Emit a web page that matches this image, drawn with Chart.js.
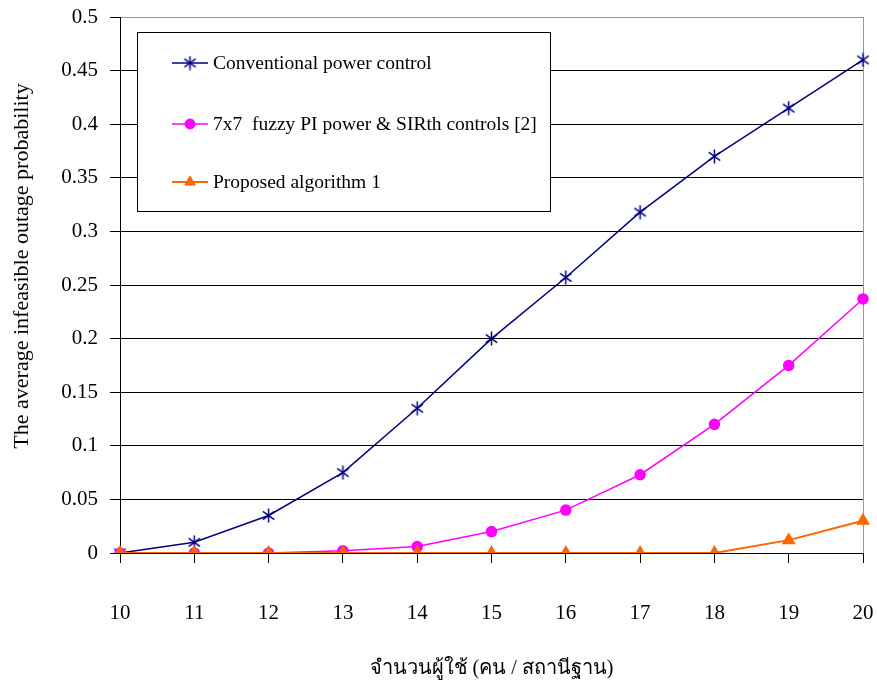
<!DOCTYPE html>
<html><head><meta charset="utf-8">
<script src="https://cdn.jsdelivr.net/npm/chart.js@4"></script>
<style>html,body{margin:0;padding:0;background:#fff}#wrap{width:877px;height:684px;position:relative}</style>
</head><body><div id="wrap"><canvas id="c"></canvas></div>
<script>
const users = ['10','11','12','13','14','15','16','17','18','19','20'];
const conventional = [0, 0.01, 0.035, 0.075, 0.135, 0.2, 0.257, 0.318, 0.37, 0.415, 0.46];
const fuzzy = [0, 0, 0, 0.002, 0.006, 0.02, 0.04, 0.073, 0.12, 0.175, 0.237];
const proposed = [0, 0, 0, 0, 0, 0, 0, 0, 0, 0.012, 0.03];
const seriesNames = ['Conventional power control', '7x7  fuzzy PI power & SIRth controls [2]', 'Proposed algorithm 1'];
const yTitle = 'The average infeasible outage probability';
const xTitle = 'จำนวนผู้ใช้ (คน / สถานีฐาน)';

const SERIF = "'Liberation Serif', 'Times New Roman', serif";

function makeStar(size, color, lw) {
  const c = document.createElement('canvas');
  c.width = size; c.height = size;
  const x = c.getContext('2d');
  x.strokeStyle = color; x.lineWidth = lw;
  const h = size / 2, r = size / 2 - 0.5;
  x.beginPath();
  x.moveTo(h, h - r); x.lineTo(h, h + r);
  [35, 145].forEach(a => {
    const t = a * Math.PI / 180;
    x.moveTo(h - r * Math.cos(t), h - r * Math.sin(t));
    x.lineTo(h + r * Math.cos(t), h + r * Math.sin(t));
  });
  x.stroke();
  return c;
}
const star = makeStar(15, '#000080', 1.5);

const boxLegend = {
  id: 'boxLegend',
  afterDraw(chart) {
    const ctx = chart.ctx;
    ctx.save();
    // y-axis title
    ctx.fillStyle = '#000';
    ctx.font = "22px " + SERIF;
    ctx.textAlign = 'center'; ctx.textBaseline = 'middle';
    ctx.translate(22, 266);
    ctx.rotate(-Math.PI / 2);
    ctx.fillText(yTitle, 0, 0);
    ctx.setTransform(1, 0, 0, 1, 0, 0);
    // legend box
    const bx = 137.5, by = 32.5, bw = 413, bh = 179;
    ctx.fillStyle = '#fff';
    ctx.fillRect(bx, by, bw, bh);
    ctx.strokeStyle = '#000'; ctx.lineWidth = 1;
    ctx.strokeRect(bx, by, bw, bh);
    const ys = [63, 124, 182];
    chart.data.datasets.forEach((ds, i) => {
      const y = ys[i];
      ctx.strokeStyle = ds.borderColor; ctx.lineWidth = ds.borderWidth;
      ctx.beginPath(); ctx.moveTo(172, y); ctx.lineTo(208, y); ctx.stroke();
      ctx.fillStyle = ds.pointBackgroundColor; ctx.strokeStyle = ds.pointBorderColor;
      ctx.lineWidth = 1;
      Chart.helpers.drawPoint(ctx, {pointStyle: ds.pointStyle, radius: ds.pointRadius, rotation: 0, borderWidth: 1}, 190, y);
      ctx.fillStyle = '#000';
      ctx.font = "19.5px " + SERIF;
      ctx.textBaseline = 'middle'; ctx.textAlign = 'left';
      ctx.fillText(ds.label, 213, y + 1);
    });
    ctx.restore();
  }
};

new Chart(document.getElementById('c'), {
  type: 'line',
  data: {
    labels: users,
    datasets: [
      {label: seriesNames[0], data: conventional, borderColor: '#000080', borderWidth: 1.5,
       pointStyle: star, pointRadius: 7, pointBackgroundColor: '#000080', pointBorderColor: '#000080', order: 2},
      {label: seriesNames[1], data: fuzzy, borderColor: '#FF00FF', borderWidth: 1.5,
       pointStyle: 'circle', pointRadius: 5, pointBackgroundColor: '#FF00FF', pointBorderColor: '#FF00FF', order: 1},
      {label: seriesNames[2], data: proposed, borderColor: '#FF6600', borderWidth: 2,
       pointStyle: 'triangle', pointRadius: 6, pointBackgroundColor: '#FF6600', pointBorderColor: '#FF6600', order: 0}
    ]
  },
  options: {
    responsive: true, maintainAspectRatio: false, animation: false,
    devicePixelRatio: 1,
    layout: {padding: {top: 17, right: 14, left: 0, bottom: 0}},
    plugins: {legend: {display: false}, tooltip: {enabled: false}},
    elements: {line: {tension: 0}},
    scales: {
      x: {
        offset: false,
        afterFit(s) { s.height = 131; s.paddingLeft = 0; s.paddingRight = 0; },
        border: {color: '#000', width: 1},
        grid: {drawOnChartArea: true, drawTicks: true, tickLength: 10, tickColor: '#000',
               color: c => c.index === users.length - 1 ? '#999' : 'rgba(0,0,0,0)'},
        ticks: {color: '#000', padding: 38, font: {family: SERIF, size: 21}, maxRotation: 0},
        title: {display: true, text: xTitle, color: '#000', font: {family: SERIF, size: 20}, padding: {top: 0, bottom: 3}}
      },
      y: {
        min: 0, max: 0.5,
        afterFit(s) { s.width = 120; s.paddingTop = 0; s.paddingBottom = 0; },
        border: {color: '#000', width: 1},
        grid: {drawTicks: true, tickLength: 10, tickColor: '#000',
               color: c => (c.tick && c.tick.value > 0.499) ? '#999' : '#000'},
        ticks: {stepSize: 0.05, color: '#000', padding: 12, font: {family: SERIF, size: 21},
                callback: v => String(+v.toFixed(2))},
        title: {display: false, text: yTitle}
      }
    }
  },
  plugins: [boxLegend]
});
</script></body></html>
